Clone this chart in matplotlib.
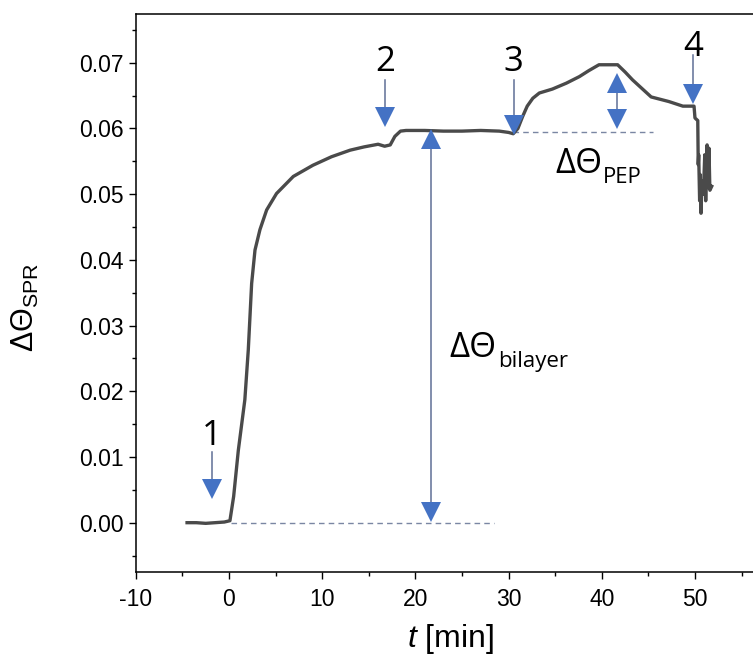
import matplotlib
matplotlib.use("Agg")
import matplotlib.pyplot as plt
from matplotlib.transforms import offset_copy

# SPR trace
t_min = [-4.5, -3.5, -2.5, -1.5, -0.5, 0.1, 0.5, 1.0, 1.7, 2.07, 2.43, 2.79, 3.32, 4.04,
         5.1, 6.9, 9.0, 11.0, 13.0, 14.5, 16.0, 16.7, 17.3, 17.8, 18.4, 19.0, 21.0, 23.0,
         25.0, 27.0, 29.0, 30.0, 30.5, 31.0, 31.5, 32.0, 32.6, 33.3, 34.7, 36.2, 37.6,
         38.6, 39.7, 41.7, 42.5, 43.3, 45.3, 47.2, 48.7, 49.9, 50.0, 50.3, 50.35, 50.4,
         50.5, 50.55, 50.65, 50.75, 50.9, 51.05, 51.15, 51.3, 51.4, 51.5, 51.6, 51.8]
d_theta = [0.0, 0.0, -0.0001, 0.0, 0.0001, 0.0003, 0.004, 0.011, 0.0187, 0.0263, 0.0364,
           0.0415, 0.0446, 0.0476, 0.0501, 0.0527, 0.0544, 0.0557, 0.0567, 0.0572, 0.0576,
           0.0573, 0.0575, 0.0588, 0.0596, 0.0597, 0.0597, 0.0596, 0.0596, 0.0597, 0.0596,
           0.0594, 0.0592, 0.0600, 0.0618, 0.0634, 0.0646, 0.0654, 0.0660, 0.0669, 0.0679,
           0.0688, 0.0697, 0.0697, 0.0686, 0.0674, 0.0648, 0.0641, 0.0634, 0.0634, 0.0616,
           0.0612, 0.0545, 0.0560, 0.0490, 0.0530, 0.0471, 0.0520, 0.0500, 0.0560, 0.0490,
           0.0575, 0.0510, 0.0570, 0.0506, 0.0512]

# injection arrows: label, time, shaft top, arrow tip, label baseline
step_labels = ["1", "2", "3", "4"]
step_t = [-1.8, 16.76, 30.54, 49.84]
step_top = [0.0108, 0.0674, 0.0674, 0.0712]
step_tip = [0.0036, 0.0602, 0.0590, 0.0638]
step_text_y = [0.0118, 0.0688, 0.0688, 0.0711]

# double arrows
bilayer_t, bilayer_lo, bilayer_hi = 21.66, 0.0002, 0.0599
pep_t, pep_lo, pep_hi = 41.68, 0.0600, 0.0684

# dashed reference lines
base_line = ([0.2, 28.4], [-0.0001, -0.0001])
plateau_line = ([30.5, 45.5], [0.0594, 0.0594])

plt.rcParams["font.family"] = "Liberation Sans"
plt.rcParams["axes.unicode_minus"] = False
plt.rcParams["mathtext.fontset"] = "custom"
plt.rcParams["mathtext.rm"] = "Liberation Sans"
plt.rcParams["mathtext.it"] = "Liberation Sans:italic"

fig = plt.figure(figsize=(7.53, 6.67), dpi=100)
ax = fig.add_axes([135.8 / 753, 95.3 / 667, 630 / 753, 557.4 / 667])

head_c = "#4472C4"
shaft_c = "#5F6F96"
dash_c = "#7A86A3"
ms = 14

tip_down = offset_copy(ax.transData, fig=fig, y=ms / 2, units="points")
tip_up = offset_copy(ax.transData, fig=fig, y=-ms / 2, units="points")

ax.plot(*base_line, ls=(0, (4, 3)), color=dash_c, lw=1.0)
ax.plot(*plateau_line, ls=(0, (4, 3)), color=dash_c, lw=1.0)

ax.plot(t_min, d_theta, color="#4A4A4A", lw=2.4, solid_joinstyle="round", zorder=3)

for lab, x, top, tip, ty in zip(step_labels, step_t, step_top, step_tip, step_text_y):
    ax.plot([x, x], [top, tip + 0.001], color=shaft_c, lw=1.1, zorder=4)
    ax.plot([x], [tip], marker="v", ms=ms, color=head_c, mew=0,
            transform=tip_down, zorder=5)
    ax.text(x, ty, lab, fontsize=25, family="Open Sans", ha="center",
            va="baseline", zorder=5)

for x, lo, hi in [(bilayer_t, bilayer_lo, bilayer_hi), (pep_t, pep_lo, pep_hi)]:
    ax.plot([x, x], [lo + 0.001, hi - 0.001], color=shaft_c, lw=1.1, zorder=4)
    ax.plot([x], [lo], marker="v", ms=ms, color=head_c, mew=0,
            transform=tip_down, zorder=5)
    ax.plot([x], [hi], marker="^", ms=ms, color=head_c, mew=0,
            transform=tip_up, zorder=5)


def delta_label(x, y, sub):
    main = ax.text(x, y, "ΔΘ", fontsize=25, family="Open Sans", va="baseline")
    ax.annotate(sub, xy=(1, 0), xycoords=main, xytext=(0.5, -1.5),
                textcoords="offset points", fontsize=16, family="Open Sans",
                va="baseline")


delta_label(23.7, 0.0252, "bilayer")
delta_label(35.0, 0.0533, "PEP")

ax.set_xlim(-10, 57.6)
ax.set_ylim(-0.00746, 0.07738)
ax.set_xticks([-10, 0, 10, 20, 30, 40, 50])
ax.set_xticks(range(-5, 60, 10), minor=True)
ax.set_yticks([0.0, 0.01, 0.02, 0.03, 0.04, 0.05, 0.06, 0.07])
ax.set_yticks([-0.005, 0.005, 0.015, 0.025, 0.035, 0.045, 0.055, 0.065, 0.075], minor=True)
ax.yaxis.set_major_formatter(matplotlib.ticker.FormatStrFormatter("%.2f"))

ax.spines["right"].set_visible(False)
for s in ["left", "top", "bottom"]:
    ax.spines[s].set_linewidth(1.1)
ax.tick_params(which="major", direction="out", length=5, width=1.0, labelsize=16.5)
ax.tick_params(which="minor", direction="out", length=3, width=1.0)
ax.tick_params(axis="x", pad=7)

ax.set_xlabel(r"$t$ [min]", fontsize=23, labelpad=8)
ax.set_ylabel(r"$\Delta\Theta_{\mathrm{SPR}}$", fontsize=22)
ax.yaxis.set_label_coords(-0.15, 0.475)

fig.savefig("out.png", dpi=100)
